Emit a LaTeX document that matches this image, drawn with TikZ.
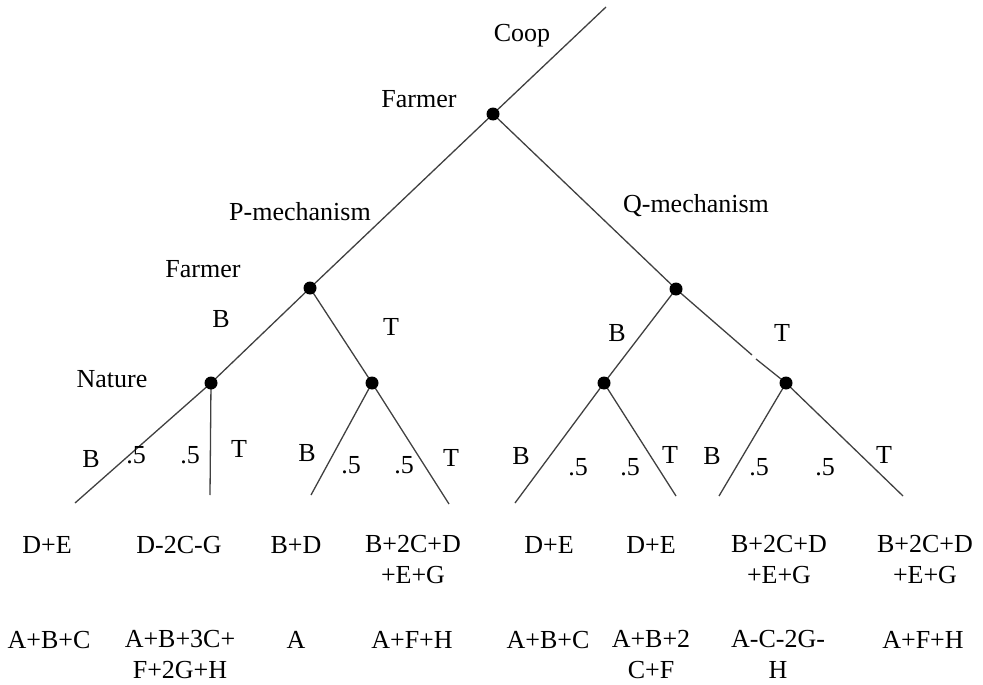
\documentclass[tikz,border=0pt]{standalone}
\usepackage{fontspec}
\setmainfont{Liberation Serif}
\usetikzlibrary{backgrounds}
\begin{document}
\begin{tikzpicture}[x=1pt,y=-1pt,
  br/.style={line width=1.3pt, draw=black!75},
  dot/.style={circle, fill=black, inner sep=0pt, minimum size=13pt},
  lbl/.style={anchor=base, inner sep=0pt, font=\fontsize{26}{32}\selectfont},
  pay/.style={align=center, anchor=north, inner sep=0pt, font=\fontsize{26}{31}\selectfont}]
\useasboundingbox (0,0) rectangle (983,685);
% decision nodes
\node[dot] (root) at (493,114) {};
\node[dot] (p) at (310,288) {};
\node[dot] (q) at (676,289) {};
\node[dot] (pb) at (211,383) {};
\node[dot] (pt) at (372,383) {};
\node[dot] (qb) at (604,383) {};
\node[dot] (qt) at (786,383) {};
% free ends
\coordinate (top) at (606,7);
\coordinate (gapa) at (752,355);
\coordinate (gapb) at (756,359);
\coordinate (l1) at (75,503);
\coordinate (l2) at (210,495);
\coordinate (l3) at (311,495);
\coordinate (l4) at (449,504);
\coordinate (l5) at (515,503);
\coordinate (l6) at (676,496);
\coordinate (l7) at (719,496);
\coordinate (l8) at (903,496);
% branches
\begin{scope}[on background layer]
\draw[br] (top) -- (root.center);
\draw[br] (root.center) -- (p.center);
\draw[br] (root.center) -- (q.center);
\draw[br] (p.center) -- (pb.center);
\draw[br] (p.center) -- (pt.center);
\draw[br] (q.center) -- (qb.center);
\draw[br] (q.center) -- (gapa);
\draw[br] (gapb) -- (qt.center);
\draw[br] (pb.center) -- (l1);
\draw[br] (pb.center) -- (l2);
\draw[br] (pt.center) -- (l3);
\draw[br] (pt.center) -- (l4);
\draw[br] (qb.center) -- (l5);
\draw[br] (qb.center) -- (l6);
\draw[br] (qt.center) -- (l7);
\draw[br] (qt.center) -- (l8);
\end{scope}
% labels
\node[lbl] (tcoop) at (522,42) {Coop};
\node[lbl] (tf1) at (419,107) {Farmer};
\node[lbl] (tpm) at (300,220) {P-mechanism};
\node[lbl] (tqm) at (696,212) {Q-mechanism};
\node[lbl] (tf2) at (203,277) {Farmer};
\node[lbl] (tnat) at (112,387) {Nature};
\node[lbl] (b1) at (221,327) {B};
\node[lbl] (t1) at (391,335) {T};
\node[lbl] (b2) at (617,341) {B};
\node[lbl] (t2) at (782,341) {T};
% chance labels
\node[lbl] (c1) at (91,467) {B};
\node[lbl] (c2) at (136,463) {.5};
\node[lbl] (c3) at (190,463) {.5};
\node[lbl] (c4) at (239,457) {T};
\node[lbl] (c5) at (307,461) {B};
\node[lbl] (c6) at (351,473) {.5};
\node[lbl] (c7) at (404,473) {.5};
\node[lbl] (c8) at (451,466) {T};
\node[lbl] (c9) at (521,464) {B};
\node[lbl] (c10) at (578,475) {.5};
\node[lbl] (c11) at (630,475) {.5};
\node[lbl] (c12) at (670,463) {T};
\node[lbl] (c13) at (712,464) {B};
\node[lbl] (c14) at (759,475) {.5};
\node[lbl] (c15) at (825,475) {.5};
\node[lbl] (c16) at (884,463) {T};
% payoffs row 1
\node[lbl] (r1a) at (47,553) {D+E};
\node[lbl] (r1b) at (179,553) {D-2C-G};
\node[lbl] (r1c) at (296,553) {B+D};
\node[pay] (r1d) at (413,535.5) {B+2C+D\\+E+G};
\node[lbl] (r1e) at (549,553) {D+E};
\node[lbl] (r1f) at (651,553) {D+E};
\node[pay] (r1g) at (779,535.5) {B+2C+D\\+E+G};
\node[pay] (r1h) at (925,535.5) {B+2C+D\\+E+G};
% payoffs row 2
\node[lbl] (r2a) at (49,648) {A+B+C};
\node[pay] (r2b) at (180,630.5) {A+B+3C+\\F+2G+H};
\node[lbl] (r2c) at (296,648) {A};
\node[lbl] (r2d) at (412,648) {A+F+H};
\node[lbl] (r2e) at (548,648) {A+B+C};
\node[pay] (r2f) at (651,630.5) {A+B+2\\C+F};
\node[pay] (r2g) at (778,630.5) {A-C-2G-\\H};
\node[lbl] (r2h) at (923,648) {A+F+H};
\end{tikzpicture}
\end{document}
